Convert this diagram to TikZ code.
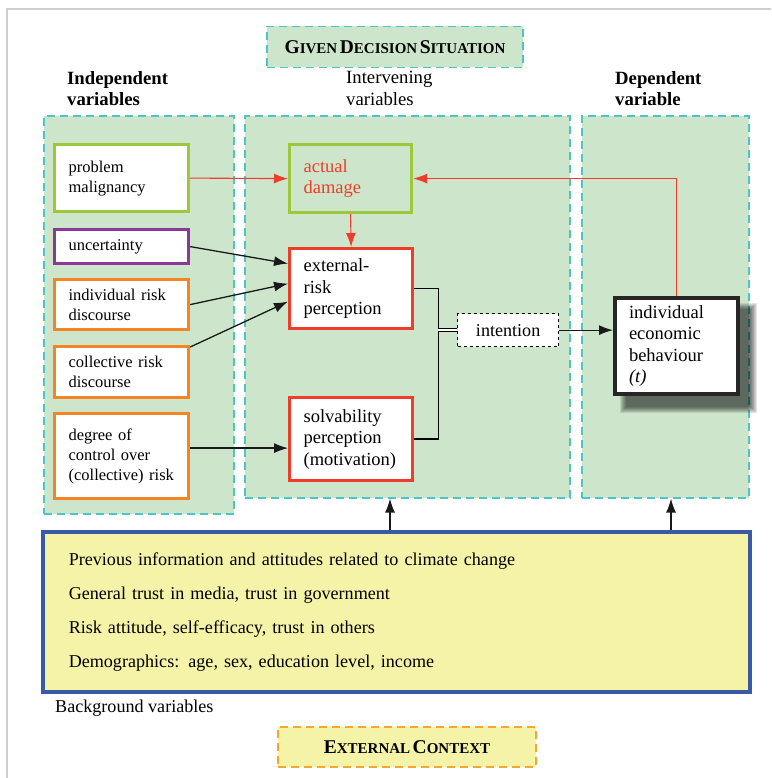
\documentclass[tikz,border=0pt]{standalone}
\usepackage{fontspec}
\setmainfont{Liberation Serif}
\usetikzlibrary{arrows.meta}

\definecolor{panelgreen}{HTML}{CDE6CB}
\definecolor{panelteal}{HTML}{4DC4C8}
\definecolor{limegreen}{HTML}{9CC93B}
\definecolor{violet}{HTML}{8A3A96}
\definecolor{orangebox}{HTML}{F58426}
\definecolor{redline}{HTML}{EE3D2B}
\definecolor{paleyellow}{HTML}{F5F3A8}
\definecolor{bgblue}{HTML}{3B5AA6}
\definecolor{ctxorange}{HTML}{F7A630}
\definecolor{framegray}{HTML}{CFCFCF}

% fake small capitals
\newcommand{\bigsc}[2]{{\fontsize{19.5}{22}\selectfont #1}{\fontsize{15}{22}\selectfont #2}}

\begin{document}
\begin{tikzpicture}[x=1pt,y=-1pt,
  font=\fontsize{18.1}{22}\selectfont,
  panel/.style={draw=panelteal,fill=panelgreen,line width=1.6pt,
    dash pattern=on 8pt off 5pt,anchor=north west,inner sep=0pt},
  varbox/.style={draw,fill=white,line width=3.2pt,anchor=north west,
    text width=106pt,inner xsep=14pt,inner ysep=0pt,align=left,
    font=\fontsize{16.5}{20}\selectfont},
  midbox/.style={varbox,text width=95pt,font=\fontsize{18.5}{21.5}\selectfont},
  heading/.style={anchor=north west,inner sep=0pt,align=left,
    font=\fontsize{18.7}{21.5}\selectfont},
  arr/.style={-{Latex[length=14pt,width=10pt]},line width=1.3pt,black!90},
  redarr/.style={-{Latex[length=14pt,width=10pt]},line width=1.1pt,redline}]

\useasboundingbox (0,0) rectangle (771,778);

% Frame
\draw[framegray,line width=2pt] (771,9) -- (7,9) -- (7,778);

% Title
\node[panel,anchor=center,minimum width=256,minimum height=41,
  font=\bfseries] (situation) at (395,47)
  {\bigsc{G}{IVEN} \bigsc{D}{ECISION} \bigsc{S}{ITUATION}};

% Column headings
\node[heading,font=\fontsize{18.7}{21.5}\selectfont\bfseries] (indhead)
  at (67,71) {Independent\\variables};
\node[heading] (inthead) at (346,71) {Intervening\\variables};
\node[heading,font=\fontsize{18.7}{21.5}\selectfont\bfseries] (dephead)
  at (615,71) {Dependent\\variable};

% Panels
\node[panel,minimum width=190,minimum height=398] (indpanel) at (43,115) {};
\node[panel,minimum width=325,minimum height=382] (intpanel) at (244,115) {};
\node[panel,minimum width=167,minimum height=382] (deppanel) at (581,115) {};

% Independent variables
\node[varbox,draw=limegreen,minimum height=67] (malig) at (53,143)
  {problem\\malignancy};
\node[varbox,draw=violet,minimum height=34] (uncert) at (53,228)
  {uncertainty};
\node[varbox,draw=orangebox,minimum height=50] (indiv) at (53,278)
  {individual risk\\discourse};
\node[varbox,draw=orangebox,minimum height=51] (collect) at (53,345)
  {collective risk\\discourse};
\node[varbox,draw=orangebox,minimum height=85] (degree) at (53,412)
  {degree of\\control over\\(collective) risk};

% Intervening variables
\node[midbox,draw=limegreen,fill=panelgreen,text=redline,text width=94pt,
  minimum height=68] (damage) at (288,143) {actual\\damage};
\node[midbox,draw=redline,minimum height=80] (extrisk)
  at (288,247) {external-\\risk\\perception};
\node[midbox,draw=redline,minimum height=83] (solv)
  at (288,396) {solvability\\perception\\(motivation)};
\node[draw,dashed,fill=white,line width=1.3pt,anchor=north west,
  minimum width=101,minimum height=33] (intention) at (457,313) {intention};

% Dependent variable (soft shadow first)
\foreach \i in {0,...,6}
  \fill[black,opacity=0.1] (620+\i,303+\i) rectangle (757-\i,413-\i);
\node[midbox,draw=black!85,line width=4pt,minimum height=96]
  (behav) at (613,296) {individual\\economic\\behaviour\\\textit{(t)}};

% Background variables
\node[draw=bgblue,fill=paleyellow,line width=3.5pt,anchor=north west,
  minimum width=707,minimum height=160,text width=655pt,inner xsep=26pt,
  align=left] (bgvars) at (41,530)
  {Previous information and attitudes related to climate change\\[12pt]
   General trust in media, trust in government\\[12pt]
   Risk attitude, self-efficacy, trust in others\\[12pt]
   Demographics: age, sex, education level, income};
\node[anchor=north west,inner sep=0pt] (bglabel) at (55,700)
  {Background variables};

% External context
\node[panel,draw=ctxorange,fill=paleyellow,anchor=center,minimum width=258,
  minimum height=40,font=\bfseries] (context) at (407,747)
  {\bigsc{E}{XTERNAL} \bigsc{C}{ONTEXT}};

% Connectors
\coordinate (jn) at ([xshift=24pt]extrisk.east);
\coordinate (solvin) at ([yshift=-9pt]solv.west);

\draw[redarr] (malig.east) -- (damage.west);
\draw[redarr] (damage.south) -- (extrisk.north);
\draw[redarr] (behav.north) |- (damage.east);

\draw[arr] (uncert.east) -- ([yshift=25pt]extrisk.west);
\draw[arr] (indiv.east) -- ([yshift=5pt]extrisk.west);
\draw[arr] ([yshift=-2pt]collect.north east) -- ([yshift=-13pt]extrisk.west);
\draw[arr] (degree.east |- solvin) -- (solvin);

\draw[line width=1.3pt] (extrisk.east) -- (jn) |- (solv.east);
\draw[double,double distance=2pt,line width=0.9pt] (intention.west -| jn)
  -- (intention.west);
\draw[arr] (intention.east) -- (behav.west |- intention.east);

\draw[arr] (bgvars.north -| 390,0) -- (intpanel.south -| 390,0);
\draw[arr] (bgvars.north -| 671,0) -- (deppanel.south -| 671,0);

\end{tikzpicture}
\end{document}
